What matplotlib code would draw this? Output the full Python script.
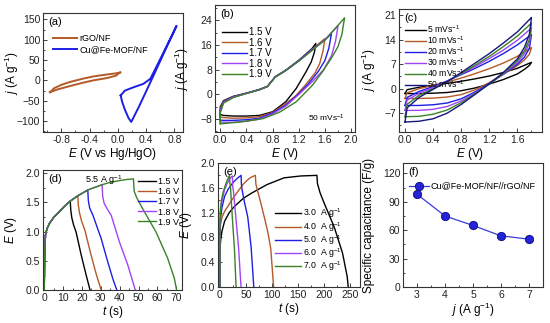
import numpy as np
import matplotlib.pyplot as plt
from matplotlib.ticker import MultipleLocator, FormatStrFormatter

plt.rcParams['font.family'] = ['Liberation Sans', 'DejaVu Sans']
plt.rcParams['mathtext.fontset'] = 'custom'
plt.rcParams['mathtext.rm'] = 'Liberation Sans'
plt.rcParams['mathtext.it'] = 'Liberation Sans:italic'
plt.rcParams['mathtext.default'] = 'regular'

BLACK = '#000000'
BROWN = '#b35a26'
BLUE = '#1e1ee6'
PURPLE = '#a044f5'
GREEN = '#3a8226'
NAVY = '#16167e'

# ---- (a) three-electrode CV ----
rgo_E = [-0.96, -0.9, -0.8, -0.68, -0.5, -0.35, -0.2, 0.0, 0.04, 0.0, -0.02, -0.15, -0.35, -0.5, -0.68, -0.85, -0.96]
rgo_j = [-29, -19, -11, -4, 4, 9.6, 13.5, 18, 20, 16, 12, 6, 0, -6, -14, -22, -29]
mof_E = [0.04, 0.10, 0.22, 0.36, 0.46, 0.55, 0.65, 0.75, 0.83, 0.75, 0.65, 0.51, 0.4, 0.3, 0.19, 0.15, 0.10, 0.06, 0.04]
mof_j = [-37, -25, -17, -8.6, 4, 35, 70, 105, 134, 104, 67, 14, -27, -64, -102, -92, -72, -52, -37]

# ---- (b) CV at 50 mV/s, different windows ----
win_labels = ['1.5 V', '1.6 V', '1.7 V', '1.8 V', '1.9 V']
win_colors = [BLACK, BROWN, BLUE, PURPLE, GREEN]
b_E = [
    [0, 0, 0.05, 0.2, 0.4, 0.6, 0.72, 0.84, 1.0, 1.2, 1.4, 1.46, 1.44, 1.39, 1.31, 1.16, 1.0, 0.8, 0.6, 0.4, 0.2, 0.05, 0],
    [0, 0, 0.05, 0.2, 0.4, 0.6, 0.72, 0.84, 1.0, 1.2, 1.4, 1.6, 1.57, 1.52, 1.45, 1.3, 1.15, 1.0, 0.8, 0.6, 0.4, 0.2, 0.05, 0],
    [0, 0, 0.05, 0.2, 0.4, 0.6, 0.72, 0.84, 1.0, 1.2, 1.4, 1.6, 1.7, 1.66, 1.6, 1.5, 1.35, 1.2, 1.0, 0.8, 0.6, 0.4, 0.2, 0.05, 0],
    [0, 0, 0.05, 0.2, 0.4, 0.6, 0.72, 0.84, 1.0, 1.2, 1.4, 1.6, 1.8, 1.76, 1.7, 1.58, 1.4, 1.2, 1.0, 0.8, 0.6, 0.4, 0.2, 0.05, 0],
    [0, 0, 0.05, 0.2, 0.4, 0.6, 0.72, 0.84, 1.0, 1.2, 1.4, 1.6, 1.9, 1.86, 1.8, 1.72, 1.66, 1.55, 1.41, 1.16, 0.91, 0.66, 0.31, 0.07, 0],
]
b_j = [
    [-6.5, -4.0, -2.0, -0.6, 0.4, 1.6, 2.6, 5.7, 7.8, 11, 14.8, 16.5, 13.7, 10.5, 7.3, 1.9, -2.4, -5.6, -6.8, -7.0, -7.0, -6.8, -6.5],
    [-7.3, -4.5, -2.2, -0.7, 0.4, 1.6, 2.6, 5.7, 7.8, 11, 14.6, 18.1, 14, 10, 7, 3, -0.5, -3, -5.8, -7.2, -7.6, -7.7, -7.5, -7.3],
    [-8.3, -5.0, -2.4, -0.8, 0.4, 1.6, 2.6, 5.7, 7.8, 11, 14.5, 17.6, 19.7, 15, 11, 7.5, 3.5, 0.2, -3.5, -6.0, -7.7, -8.2, -8.4, -8.4, -8.3],
    [-8.9, -5.5, -2.6, -0.9, 0.3, 1.5, 2.5, 5.6, 7.7, 10.8, 14.3, 17.8, 22.2, 17, 12.5, 8, 4, 0, -3.8, -6.3, -8.0, -8.7, -9.0, -9.0, -8.9],
    [-9.5, -6.0, -2.8, -1.0, 0.3, 1.5, 2.5, 5.6, 7.7, 10.8, 14.2, 17.6, 24.8, 19.5, 15.5, 12.5, 10.5, 7, 3, -2.4, -5.7, -7.8, -8.9, -9.4, -9.5],
]

# ---- (c) CV at different scan rates ----
rate_labels = ['5 mVs$^{-1}$', '10 mVs$^{-1}$', '20 mVs$^{-1}$', '30 mVs$^{-1}$', '40 mVs$^{-1}$', '50 mVs$^{-1}$']
rate_colors = [BLACK, BROWN, BLUE, PURPLE, GREEN, NAVY]
c_E = [0, 0.03, 0.2, 0.4, 0.6, 0.8, 1.0, 1.2, 1.4, 1.6, 1.8,
       1.77, 1.7, 1.6, 1.4, 1.2, 1.0, 0.8, 0.6, 0.4, 0.2, 0.02, 0]
c_j = [
    [-1.4, -0.3, 0.4, 1.0, 1.5, 2.1, 2.8, 3.6, 4.6, 5.8, 7.5, 6.6, 5.5, 4.2, 2.6, 1.3, 0.2, -0.6, -1.1, -1.3, -1.4, -1.4, -1.4],
    [-2.8, -1.2, 0.0, 0.9, 1.9, 3.0, 4.3, 5.7, 7.3, 9.2, 11.7, 9.8, 8.2, 6.6, 4.1, 1.7, -0.3, -1.7, -2.4, -2.7, -2.8, -2.8, -2.8],
    [-4.8, -2.5, -0.8, 0.6, 2.2, 4.0, 5.8, 7.8, 10.0, 12.5, 15.4, 11.5, 9.0, 7.0, 4.1, 1.5, -0.9, -2.9, -4.1, -4.6, -4.8, -4.8, -4.8],
    [-6.2, -3.3, -1.3, 0.3, 2.1, 4.2, 6.3, 8.6, 11.0, 13.8, 17.3, 13.0, 10.0, 7.5, 4.2, 1.3, -1.2, -3.5, -5.1, -5.9, -6.2, -6.2, -6.2],
    [-8.0, -4.5, -1.9, 0.0, 2.0, 4.3, 6.7, 9.2, 12.0, 15.0, 18.7, 14.0, 10.8, 8.0, 4.3, 1.3, -1.4, -4.0, -6.1, -7.3, -7.9, -8.0, -8.0],
    [-9.5, -5.5, -2.5, -0.2, 2.0, 4.6, 7.3, 10.0, 13.0, 16.2, 20.3, 15.5, 11.8, 8.5, 4.6, 1.4, -1.6, -4.5, -7.0, -8.6, -9.3, -9.5, -9.5],
]

# ---- (d) GCD at 5.5 A/g, different windows ----
d_charge_t = [0, 0.3, 0.7, 1.5, 2.8, 5, 8, 11, 13.8, 17.8, 23.1, 30.7, 35, 39.9, 44, 47.3]
d_charge_E = [0, 0.7, 0.95, 1.05, 1.14, 1.24, 1.34, 1.44, 1.52, 1.61, 1.71, 1.8, 1.84, 1.87, 1.89, 1.9]
d_peak_idx = [8, 9, 10, 11, 15]
d_dis_t = [
    [13.8, 14.1, 14.6, 15.5, 16.9, 19.6, 22.2, 24.3],
    [17.8, 18.1, 18.7, 19.8, 21.5, 24.5, 27.5, 30.2],
    [23.1, 23.4, 24.1, 25.8, 30.2, 33.7, 36.5, 38.5],
    [30.7, 31.0, 31.8, 33.5, 35.5, 39.9, 44.3, 48.3],
    [47.3, 47.7, 49.0, 52.2, 59.3, 65.5, 69.0, 70.2],
]
d_dis_E = [
    [1.52, 1.36, 1.24, 1.12, 0.99, 0.60, 0.26, 0],
    [1.61, 1.45, 1.32, 1.18, 1.03, 0.64, 0.28, 0],
    [1.71, 1.53, 1.40, 1.28, 0.88, 0.48, 0.18, 0],
    [1.80, 1.60, 1.48, 1.38, 1.28, 0.82, 0.43, 0],
    [1.90, 1.69, 1.58, 1.39, 0.99, 0.54, 0.20, 0],
]

# ---- (e) GCD at different current densities ----
cur_labels = ['3.0  A g$^{-1}$', '4.0  A g$^{-1}$', '5.0  A g$^{-1}$', '6.0  A g$^{-1}$', '7.0  A g$^{-1}$']
cur_colors = [BLACK, BROWN, BLUE, PURPLE, GREEN]
e_t = [
    [0, 0.3, 1.5, 4, 9, 18, 28, 45, 60, 90, 123, 155, 186, 187, 192, 200, 219, 235, 244, 246],
    [0, 0.3, 1, 4, 9, 15.3, 25, 34.4, 45, 53.4, 60, 68, 69, 71, 78, 85, 91.5, 97.5, 103],
    [0, 0.3, 1, 4, 9, 16, 24.8, 33, 40.7, 41.2, 42.5, 47, 53.4, 59.8, 65],
    [0, 0.2, 1, 3, 6, 9, 14, 19, 24, 24.5, 26, 31, 35.7, 40.5],
    [0, 0.2, 1, 3, 6, 10, 14, 18.5, 19, 20.3, 24, 28, 31],
]
e_E = [
    [0, 0.6, 0.76, 0.9, 1.06, 1.2, 1.3, 1.43, 1.51, 1.65, 1.76, 1.79, 1.8, 1.67, 1.52, 1.35, 0.97, 0.55, 0.17, 0],
    [0, 0.8, 1.0, 1.12, 1.22, 1.3, 1.43, 1.54, 1.66, 1.73, 1.77, 1.8, 1.66, 1.59, 1.37, 1.13, 0.9, 0.62, 0],
    [0, 0.9, 1.1, 1.28, 1.46, 1.58, 1.68, 1.75, 1.8, 1.66, 1.57, 1.37, 1.13, 0.65, 0],
    [0, 1.0, 1.2, 1.34, 1.46, 1.57, 1.67, 1.75, 1.79, 1.62, 1.55, 1.08, 0.65, 0],
    [0, 1.05, 1.25, 1.4, 1.52, 1.63, 1.72, 1.8, 1.68, 1.61, 1.1, 0.6, 0],
]

# ---- (f) specific capacitance ----
f_j = [3, 4, 5, 6, 7]
f_C = [98, 75, 65, 54, 50.5]


def style(ax, xlim, ylim, xmaj, xmin, ymaj, ymin, xlabel, ylabel, tag, ylab_x, xfmt=None, yfmt=None):
    ax.set_xlim(*xlim)
    ax.set_ylim(*ylim)
    ax.xaxis.set_major_locator(MultipleLocator(xmaj))
    ax.xaxis.set_minor_locator(MultipleLocator(xmin))
    ax.yaxis.set_major_locator(MultipleLocator(ymaj))
    ax.yaxis.set_minor_locator(MultipleLocator(ymin))
    if xfmt:
        ax.xaxis.set_major_formatter(FormatStrFormatter(xfmt))
    if yfmt:
        ax.yaxis.set_major_formatter(FormatStrFormatter(yfmt))
    ax.tick_params(which='major', direction='in', length=3, width=0.6, labelsize=7.5, pad=2, colors='#222222')
    ax.tick_params(which='minor', direction='in', length=1.5, width=0.5)
    for s in ax.spines.values():
        s.set_linewidth(0.8)
        s.set_color('#333333')
    ax.set_xlabel(xlabel, fontsize=8.5, labelpad=1)
    ax.set_ylabel(ylabel, fontsize=8.5)
    ax.yaxis.set_label_coords(ylab_x, 0.5)
    ax.text(0.04, 0.97, tag, transform=ax.transAxes, va='top', ha='left', fontsize=8)


fig = plt.figure(figsize=(5.5, 3.23), dpi=100)
ax_a = fig.add_axes([0.078, 0.591, 0.2545, 0.368])
ax_b = fig.add_axes([0.391, 0.591, 0.2545, 0.393])
ax_c = fig.add_axes([0.7255, 0.591, 0.26, 0.381])
ax_d = fig.add_axes([0.078, 0.102, 0.2527, 0.3715])
ax_e = fig.add_axes([0.396, 0.1115, 0.258, 0.384])
ax_f = fig.add_axes([0.7327, 0.1115, 0.2545, 0.384])

jlab = r'$\mathit{j}$ (A g$^{-1}$)'
Elab = r'$\mathit{E}$ (V)'
tlab = r'$\mathit{t}$ (s)'

# (a)
ax_a.plot(rgo_E, rgo_j, color=BROWN, lw=1.4, label='rGO/NF')
ax_a.plot(mof_E, mof_j, color=BLUE, lw=1.4, label='Cu@Fe-MOF/NF')
style(ax_a, (-1.06, 0.92), (-127, 165), 0.4, 0.2, 50, 25,
      r'$\mathit{E}$ (V vs Hg/HgO)', jlab, '(a)', -0.16, xfmt='%.1f')
ax_a.legend(loc='upper left', bbox_to_anchor=(0.03, 0.88), frameon=False, fontsize=6.5,
            handlelength=2.6, handletextpad=0.3, labelspacing=0.3, borderpad=0.2)

# (b)
for E, j, c, lab in zip(b_E, b_j, win_colors, win_labels):
    ax_b.plot(E, j, color=c, lw=1.0, label=lab)
style(ax_b, (-0.08, 2.06), (-12.2, 28.9), 0.4, 0.2, 8, 4, Elab, jlab, '(b)', -0.17, xfmt='%.1f')
ax_b.legend(loc='upper left', bbox_to_anchor=(0.0, 0.88), frameon=False, fontsize=7,
            handlelength=2.6, handletextpad=0.2, labelspacing=0.05, borderpad=0.2)
ax_b.text(0.93, 0.06, '50 mVs$^{-1}$', transform=ax_b.transAxes, ha='right', va='bottom', fontsize=6)

# (c)
for j, c, lab in zip(c_j, rate_colors, rate_labels):
    ax_c.plot(c_E, j, color=c, lw=1.0, label=lab)
style(ax_c, (-0.085, 1.95), (-12.4, 22.7), 0.4, 0.2, 7, 3.5, Elab, jlab, '(c)', -0.15, xfmt='%.1f')
ax_c.legend(loc='upper left', bbox_to_anchor=(0.0, 0.93), frameon=False, fontsize=6.2,
            handlelength=2.4, handletextpad=0.1, labelspacing=-0.1, borderpad=0.2)

# (d)
for k in range(5):
    t = d_charge_t[:d_peak_idx[k] + 1] + d_dis_t[k][1:]
    E = d_charge_E[:d_peak_idx[k] + 1] + d_dis_E[k][1:]
    ax_d.plot(t, E, color=win_colors[k], lw=1.0, label=win_labels[k])
style(ax_d, (-0.7, 73), (0, 2.05), 10, 5, 0.5, 0.25, tlab, Elab, '(d)', -0.17, yfmt='%.1f')
ax_d.legend(loc='upper right', bbox_to_anchor=(1.03, 1.0), frameon=False, fontsize=6.5,
            handlelength=2.0, handletextpad=0.2, labelspacing=0.12, borderpad=0.3)
ax_d.text(0.44, 0.97, '5.5 A g$^{-1}$', transform=ax_d.transAxes, ha='center', va='top', fontsize=6.5)

# (e)
for t, E, c, lab in zip(e_t, e_E, cur_colors, cur_labels):
    ax_e.plot(t, E, color=c, lw=1.0, label=lab)
style(ax_e, (-4, 268), (0, 2.0), 50, 25, 0.4, 0.2, tlab, Elab, '(e)', -0.17, yfmt='%.1f')
ax_e.legend(loc='lower left', bbox_to_anchor=(0.36, 0.06), frameon=False, fontsize=6.3,
            handlelength=3.0, handletextpad=0.2, labelspacing=-0.05, borderpad=0.2)

# (f)
ax_f.plot(f_j, f_C, color='#3a3ad8', lw=0.9, marker='o', ms=6, mfc='#2424d6', mec='#0c0c80',
          mew=0.6, label='Cu@Fe-MOF/NF//rGO/NF')
style(ax_f, (2.5, 7.5), (0, 131), 1, 0.5, 30, 15, jlab, 'Specific capacitance (F/g)', '(f)', -0.2)
ax_f.legend(loc='upper left', bbox_to_anchor=(0.0, 0.9), frameon=False, fontsize=6.5,
            handlelength=2.2, handletextpad=0.2, borderpad=0.2)

fig.savefig('out.png', dpi=100)
